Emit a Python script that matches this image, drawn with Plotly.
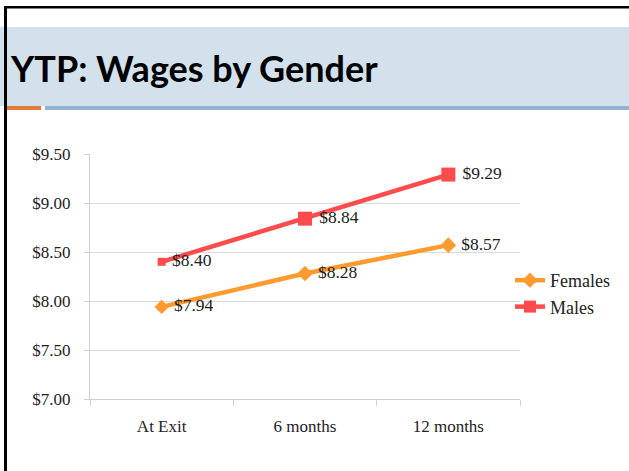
import plotly.graph_objects as go

categories = ["At Exit", "6 months", "12 months"]
females = [7.94, 8.28, 8.57]
males = [8.40, 8.84, 9.29]
y_ticks = [7.0, 7.5, 8.0, 8.5, 9.0, 9.5]

SERIF = "Liberation Serif, Times New Roman, serif"
W, H = 629, 471
PW, PH = 430, 245  # plot area size in px


def px_x(x):
    return (x - 90) / PW


def px_y(y):
    return (399 - y) / PH


fig = go.Figure()

fig.add_trace(go.Scatter(
    x=categories, y=females, name="Females",
    mode="lines+markers+text",
    line=dict(color="#FF9A2E", width=4.5),
    marker=dict(symbol="diamond", size=[11, 12, 12], color="#FF9A2E",
                opacity=1, line=dict(width=0)),
    text=[f" ${v:.2f}" for v in females],
    textposition="middle right",
    textfont=dict(family=SERIF, size=17.5, color="#222"),
))
fig.add_trace(go.Scatter(
    x=categories, y=males, name="Males",
    mode="lines+markers+text",
    line=dict(color="#FF4B4B", width=4.5),
    marker=dict(symbol="square", size=[8, 14, 14], color="#FF4B4B",
                opacity=1, line=dict(width=0)),
    text=[f" ${v:.2f}" for v in males],
    textposition="middle right",
    textfont=dict(family=SERIF, size=17.5, color="#222"),
))

# slide decoration: border, title band, underline
shapes = [
    dict(type="rect", xref="paper", yref="paper", x0=px_x(0), x1=px_x(W),
         y0=px_y(27), y1=px_y(106), fillcolor="#D3E1EC", line_width=0, layer="below"),
    dict(type="rect", xref="paper", yref="paper", x0=px_x(7), x1=px_x(41),
         y0=px_y(106), y1=px_y(110), fillcolor="#E07B39", line_width=0),
    dict(type="rect", xref="paper", yref="paper", x0=px_x(45), x1=px_x(W),
         y0=px_y(106), y1=px_y(110), fillcolor="#93B3D0", line_width=0),
    dict(type="rect", xref="paper", yref="paper", x0=px_x(4), x1=px_x(7),
         y0=px_y(6), y1=px_y(H + 5), fillcolor="black", line_width=0),
    dict(type="rect", xref="paper", yref="paper", x0=px_x(4), x1=px_x(W),
         y0=px_y(6), y1=px_y(8.5), fillcolor="black", line_width=0),
]

fig.update_layout(
    width=W, height=H,
    margin=dict(l=90, r=W - 520, t=154, b=H - 399, autoexpand=False),
    paper_bgcolor="white", plot_bgcolor="white",
    shapes=shapes,
    showlegend=True,
    legend=dict(x=px_x(510), y=px_y(262), xanchor="left", yanchor="top",
                font=dict(family=SERIF, size=18, color="#222"),
                tracegroupgap=0, itemwidth=30, bgcolor="rgba(0,0,0,0)"),
    annotations=[dict(
        text="YTP: Wages by Gender", xref="paper", yref="paper",
        x=px_x(8), y=px_y(68), xanchor="left", yanchor="middle",
        showarrow=False,
        font=dict(family="Lato, sans-serif", size=36, weight="bold", color="black"),
    )],
    xaxis=dict(
        type="category", range=[-0.5, 2.5],
        showgrid=False, showline=True, linecolor="#D0D0D0", linewidth=1,
        ticks="outside", tickcolor="#D0D0D0", ticklen=6,
        tickson="boundaries", ticklabelstandoff=12,
        tickfont=dict(family=SERIF, size=17, color="#222"),
        fixedrange=True,
    ),
    yaxis=dict(
        range=[7.0, 9.5], tickvals=y_ticks,
        ticktext=[f"${v:.2f}" for v in y_ticks],
        showgrid=True, gridcolor="#D9D9D9", gridwidth=1,
        showline=True, linecolor="#D0D0D0", linewidth=1,
        ticks="outside", tickcolor="#D0D0D0", ticklen=5,
        ticklabelstandoff=10,
        tickfont=dict(family=SERIF, size=17, color="#222"),
        zeroline=False, fixedrange=True,
    ),
)

fig.write_html("out.html", config={"displayModeBar": False},
               post_script="document.body.style.margin='0';")
